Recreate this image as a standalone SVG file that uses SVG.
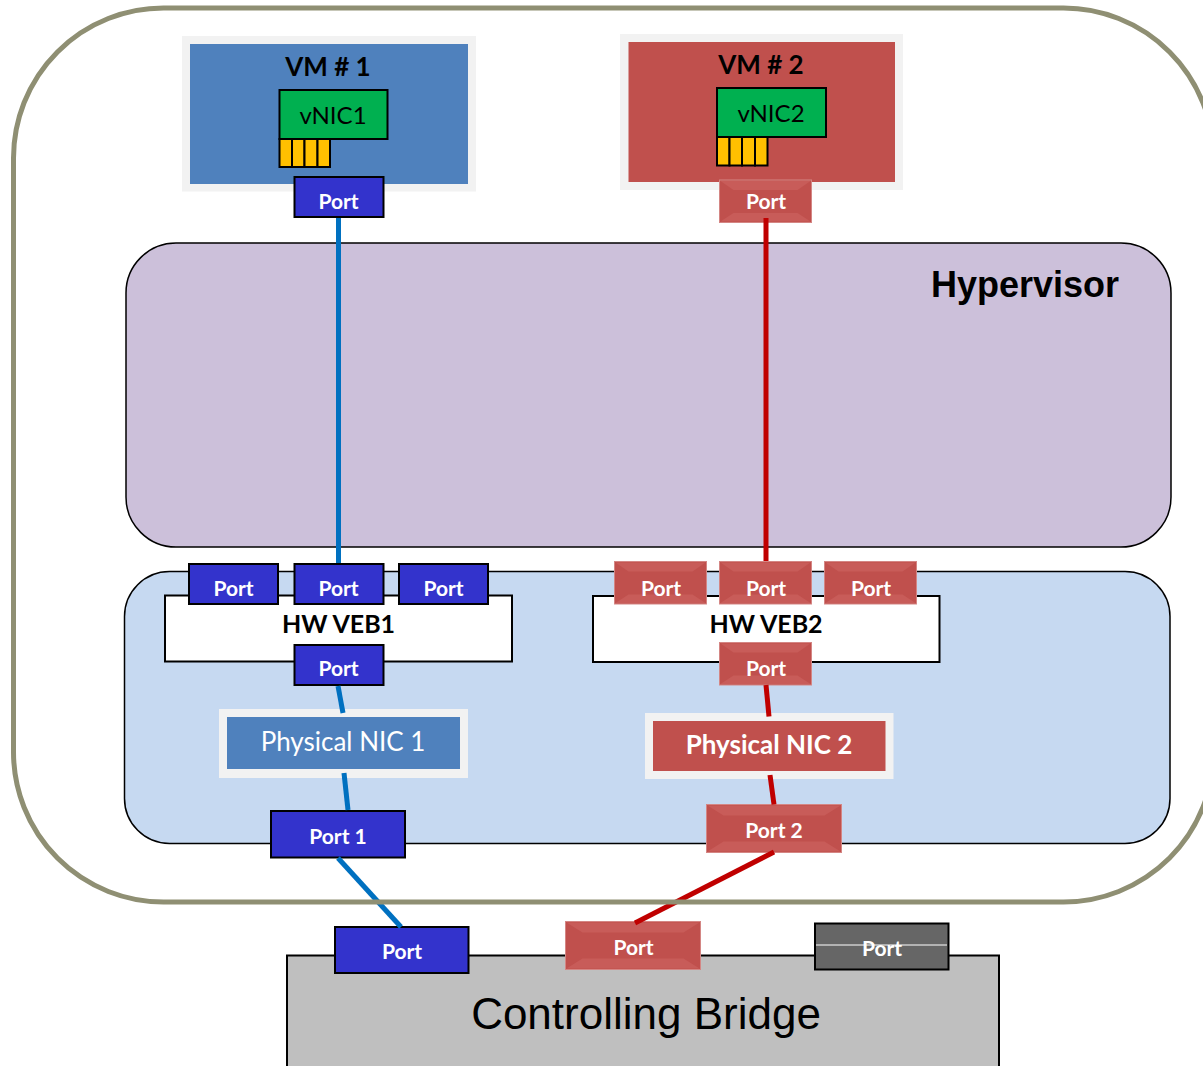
<svg xmlns="http://www.w3.org/2000/svg" xmlns:xlink="http://www.w3.org/1999/xlink" width="1203" height="1066" viewBox="0 0 1203 1066">
<style>
text{font-family:Lato,"Open Sans",sans-serif;text-anchor:middle}
.pt{fill:#fff;font-weight:700;font-size:21px}
.pb{fill:#3333cc;stroke:#000;stroke-width:2}
.pr{fill:#c0504d;stroke:#d48684;stroke-width:1}
.bev{fill:#c85c59}
.frame{fill:#f2f2f2}
.blue{fill:#4f81bd}
.red{fill:#c0504d}
.nic{fill:#00b050;stroke:#000;stroke-width:2}
.y{fill:#ffc000;stroke:#000;stroke-width:2}
.lb{stroke:#0070c0;stroke-width:5;fill:none}
.lr{stroke:#c00000;stroke-width:5;fill:none}
.big{font-family:"Liberation Sans",Arial,sans-serif}
</style>
<defs>
<g id="r92"><rect class="pr" width="92" height="42.500"/><polygon class="bev" points="1,1 91,1 78,10 14,10"/><polygon class="bev" points="1,41.500 91,41.500 78,33 14,33"/></g>
<g id="r135"><rect class="pr" width="135" height="48"/><polygon class="bev" points="1,1 134,1 118,11 17,11"/><polygon class="bev" points="1,47 134,47 118,37 17,37"/></g>
</defs>
<rect width="1203" height="1066" fill="#fff"/>
<g id="hypervisor"><rect x="126" y="243" width="1045" height="304" rx="50" fill="#ccc0da" stroke="#000" stroke-width="1.500"/>
<text class="big" x="1025" y="297" font-size="36" font-weight="700" fill="#000">Hypervisor</text></g>
<g id="adapter"><rect x="124.500" y="571.500" width="1045.500" height="272" rx="45" fill="#c6d9f1" stroke="#000" stroke-width="1.500"/></g>

<g id="vm1"><rect class="frame" x="182" y="36" width="294" height="155.500"/><rect class="blue" x="190" y="44" width="278" height="140"/>
<text x="328" y="76" font-size="26" font-weight="700" fill="#000">VM # 1</text></g>
<g id="vnic1"><rect class="nic" x="279.500" y="90" width="108" height="49"/><text x="333" y="124" font-size="24" fill="#000">vNIC1</text>
<rect class="y" x="279.500" y="139" width="12.500" height="28"/><rect class="y" x="292" y="139" width="12.500" height="28"/><rect class="y" x="304.500" y="139" width="13" height="28"/><rect class="y" x="317.500" y="139" width="12.500" height="28"/></g>
<g id="vm1-port"><rect class="pb" x="294.500" y="177" width="89" height="40"/><text class="pt" x="338.500" y="209">Port</text></g>

<g id="vm2"><rect class="frame" x="620" y="34" width="283" height="156"/><rect class="red" x="628.500" y="42" width="266.500" height="140"/>
<text x="761" y="74" font-size="26" font-weight="700" fill="#000">VM # 2</text></g>
<g id="vnic2"><rect class="nic" x="717" y="88" width="109" height="49"/><text x="771" y="122" font-size="24" fill="#000">vNIC2</text>
<rect class="y" x="717" y="137" width="12.500" height="28.500"/><rect class="y" x="729.500" y="137" width="12.500" height="28.500"/><rect class="y" x="742" y="137" width="13" height="28.500"/><rect class="y" x="755" y="137" width="12.500" height="28.500"/></g>
<g id="vm2-port"><use xlink:href="#r92" href="#r92" x="719.500" y="180"/><text class="pt" x="766" y="209">Port</text></g>

<g id="veb1"><rect x="165" y="595.500" width="347" height="66" fill="#fff" stroke="#000" stroke-width="2"/><text x="338.500" y="633" font-size="25" font-weight="700" fill="#000">HW VEB1</text></g>
<g id="veb1-port1"><rect class="pb" x="189" y="564" width="89" height="40"/><text class="pt" x="233.500" y="596">Port</text></g>
<g id="veb1-port2"><rect class="pb" x="294.500" y="564" width="89" height="40"/><text class="pt" x="338.500" y="596">Port</text></g>
<g id="veb1-port3"><rect class="pb" x="399" y="564" width="89" height="40"/><text class="pt" x="443.500" y="596">Port</text></g>
<g id="veb1-port4"><rect class="pb" x="294.500" y="645" width="89" height="40"/><text class="pt" x="338.500" y="676">Port</text></g>

<g id="veb2"><rect x="593" y="596" width="346.500" height="66" fill="#fff" stroke="#000" stroke-width="2"/><text x="766" y="633" font-size="25" font-weight="700" fill="#000">HW VEB2</text></g>
<g id="veb2-port1"><use xlink:href="#r92" href="#r92" x="614.500" y="561.500"/><text class="pt" x="661" y="596">Port</text></g>
<g id="veb2-port2"><use xlink:href="#r92" href="#r92" x="719.500" y="561.500"/><text class="pt" x="766" y="596">Port</text></g>
<g id="veb2-port3"><use xlink:href="#r92" href="#r92" x="824.500" y="561.500"/><text class="pt" x="871" y="596">Port</text></g>
<g id="veb2-port4"><use xlink:href="#r92" href="#r92" x="719.500" y="642.500"/><text class="pt" x="766" y="676">Port</text></g>

<g id="nic1"><rect class="frame" x="219" y="709" width="249" height="69"/><rect class="blue" x="227" y="717" width="233" height="52"/><text x="343" y="751" font-size="26" fill="#fff">Physical NIC 1</text></g>
<g id="nic2"><rect class="frame" x="645" y="713" width="248.500" height="66"/><rect class="red" x="653" y="721" width="232.500" height="50"/><text x="769" y="754" font-size="26" font-weight="700" fill="#fff">Physical NIC 2</text></g>

<g id="port1"><rect class="pb" x="271" y="811" width="134" height="46.500"/><text class="pt" x="338" y="844">Port 1</text></g>
<g id="port2"><use xlink:href="#r135" href="#r135" x="706.500" y="804.500"/><text class="pt" x="774" y="838">Port 2</text></g>

<g id="bridge"><rect x="287" y="955.500" width="712" height="130" fill="#bfbfbf" stroke="#000" stroke-width="2"/><text class="big" x="646" y="1029" font-size="44" fill="#000">Controlling Bridge</text></g>
<g id="bridge-port1"><rect class="pb" x="335" y="927" width="133.500" height="46"/><text class="pt" x="402" y="959">Port</text></g>
<g id="bridge-port2"><use xlink:href="#r135" href="#r135" x="565.500" y="921.500"/><text class="pt" x="633.500" y="955">Port</text></g>
<g id="bridge-port3"><rect x="815" y="923.500" width="133.500" height="46" fill="#666" stroke="#000" stroke-width="2"/><text class="pt" x="882" y="956">Port</text><line x1="816" y1="945" x2="947" y2="945" stroke="#fff" stroke-width="1"/></g>

<g id="connectors">
<line class="lb" x1="338.500" y1="218" x2="338.500" y2="563"/>
<line class="lb" x1="338" y1="686" x2="343" y2="713"/>
<line class="lb" x1="344" y1="773" x2="348" y2="810"/>
<line class="lb" x1="338" y1="858" x2="401" y2="927"/>
<line class="lr" x1="766" y1="218" x2="766" y2="561"/>
<line class="lr" x1="766" y1="685" x2="769" y2="716.500"/>
<line class="lr" x1="770" y1="775" x2="774" y2="804.500"/>
<line class="lr" x1="774" y1="852" x2="635" y2="923"/>
</g>
<g id="host"><rect x="13.500" y="8" width="1200" height="894" rx="150" fill="none" stroke="#8f8f73" stroke-width="5"/></g>
</svg>
